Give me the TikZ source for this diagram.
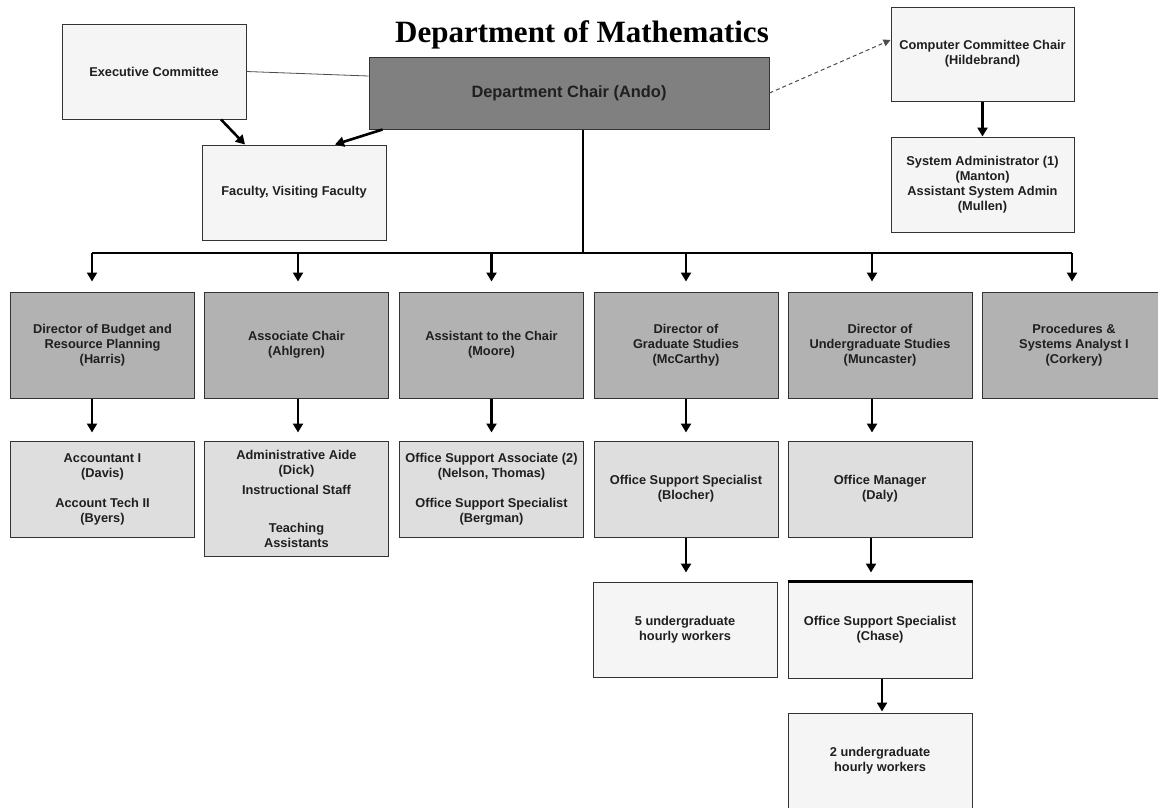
\documentclass[tikz,border=0pt]{standalone}
\usepackage{fontspec}
\setmainfont{Liberation Serif}
\setsansfont{Liberation Sans}
\usetikzlibrary{arrows.meta}
\tikzset{
  box/.style={draw=black!80,line width=1pt,align=center,inner sep=0pt,
    text=black!88,font=\sffamily\bfseries\fontsize{12.8}{15}\selectfont,
    minimum width=184pt,minimum height=96pt},
  boxpale/.style={box,fill=black!4},
  boxlight/.style={box,fill=black!13},
  boxmid/.style={box,fill=black!30,minimum height=106pt},
  boxdark/.style={box,fill=black!50},
  arr/.style={line width=2.6pt,-{Triangle[length=9pt,width=10pt]}},
}
\begin{document}
\begin{tikzpicture}[x=1pt,y=-1pt]
\useasboundingbox (0,0) rectangle (1158,807);
\clip (0,0) rectangle (1158,807);
\node at (582,42) [anchor=base,font=\bfseries\fontsize{31}{37}\selectfont] (title) {Department of Mathematics};

\node (exec) at (154,71.5) [boxpale,minimum height=95pt] {Executive Committee};
\node (fac) at (294,192.5) [boxpale,minimum height=95pt] {Faculty, Visiting Faculty};
\node (chair) at (569,93) [boxdark,minimum width=400pt,minimum height=72pt,
  font=\sffamily\bfseries\fontsize{16.4}{19}\selectfont] {Department Chair (Ando)};
\node (comp) at (982.5,54) [boxpale,minimum width=183pt,minimum height=94pt]
  {Computer Committee Chair\\(Hildebrand)};
\node (sysad) at (982.5,184.5) [boxpale,minimum width=183pt,minimum height=95pt]
  {System Administrator (1)\\(Manton)\\Assistant System Admin\\(Mullen)};

\draw[black!70,line width=0.8pt] (exec.east) -- ([yshift=17pt]chair.west);
\draw[arr] ([xshift=67pt]exec.south) -- ([xshift=-49pt]fac.north);
\draw[arr] ([xshift=14pt]chair.south west) -- ([xshift=41pt]fac.north);
\draw[black!70,line width=1pt,dash pattern=on 4pt off 3pt,
  -{Triangle[length=7pt,width=7pt]}] (chair.east) -- ([yshift=14pt]comp.west);
\draw[arr] (comp.south) -- (sysad.north);

% first row
\node (b1) at (102.5,345) [boxmid] {Director of Budget and\\Resource Planning\\(Harris)};
\node (b2) at (296.5,345) [boxmid] {Associate Chair\\(Ahlgren)};
\node (b3) at (491.5,345) [boxmid] {Assistant to the Chair\\(Moore)};
\node (b4) at (686,345) [boxmid] {Director of\\Graduate Studies\\(McCarthy)};
\node (b5) at (880,345) [boxmid] {Director of\\Undergraduate Studies\\(Muncaster)};
\node (b6) at (1074,345) [boxmid] {Procedures \&\\Systems Analyst I\\(Corkery)};

\coordinate (bus) at (583,253);
\coordinate (busL) at (92,253);
\coordinate (busR) at (1072,253);
\draw[line width=2.6pt] (chair.south -| bus) -- (bus);
\draw[line width=2.6pt] (busL) -- (busR);
\draw[arr,shorten >=10pt] (busL) -- (busL |- b1.north);
\draw[arr,shorten >=10pt] ([xshift=1.5pt]b2.north |- bus) -- ([xshift=1.5pt]b2.north);
\draw[arr,shorten >=10pt] (b3.north |- bus) -- (b3.north);
\draw[arr,shorten >=10pt] (b4.north |- bus) -- (b4.north);
\draw[arr,shorten >=10pt] ([xshift=-8pt]b5.north |- bus) -- ([xshift=-8pt]b5.north);
\draw[arr,shorten >=10pt] (busR) -- (busR |- b6.north);

% second row
\node (c1) at (102.5,489) [boxlight] {Accountant I\\(Davis)\\[15pt]Account Tech II\\(Byers)};
\node (c2) at (296.5,498.5) [boxlight,minimum height=115pt]
  {Administrative Aide\\(Dick)\\[5pt]Instructional Staff\\[23pt]Teaching\\Assistants};
\node (c3) at (491.5,489) [boxlight]
  {Office Support Associate (2)\\(Nelson, Thomas)\\[15pt]Office Support Specialist\\(Bergman)};
\node (c4) at (686,489) [boxlight] {Office Support Specialist\\(Blocher)};
\node (c5) at (880,489) [boxlight] {Office Manager\\(Daly)};

\draw[arr,shorten >=8pt] ([xshift=-10.5pt]b1.south) -- ([xshift=-10.5pt]b1.south |- c1.north);
\draw[arr,shorten >=8pt] ([xshift=1.5pt]b2.south) -- ([xshift=1.5pt]b2.south |- c2.north);
\draw[arr,shorten >=8pt] (b3.south) -- (c3.north);
\draw[arr,shorten >=8pt] (b4.south) -- (c4.north);
\draw[arr,shorten >=8pt] ([xshift=-8pt]b5.south) -- ([xshift=-8pt]c5.north);

% third row
\node (d4) at (685,629.5) [boxpale,minimum height=95pt] {5 undergraduate\\hourly workers};
\node (d5) at (880,630) [boxpale] {Office Support Specialist\\(Chase)};
\draw[line width=2.2pt] (d5.north west) -- (d5.north east);
\node (e5) at (880,761) [boxpale] {2 undergraduate\\hourly workers};

\draw[arr,shorten >=9pt] (c4.south) -- (c4.south |- d4.north);
\draw[arr,shorten >=9pt] ([xshift=-9pt]c5.south) -- ([xshift=-9pt]d5.north);
\draw[arr,shorten >=1pt] ([xshift=2pt]d5.south) -- ([xshift=2pt]e5.north);
\end{tikzpicture}
\end{document}
